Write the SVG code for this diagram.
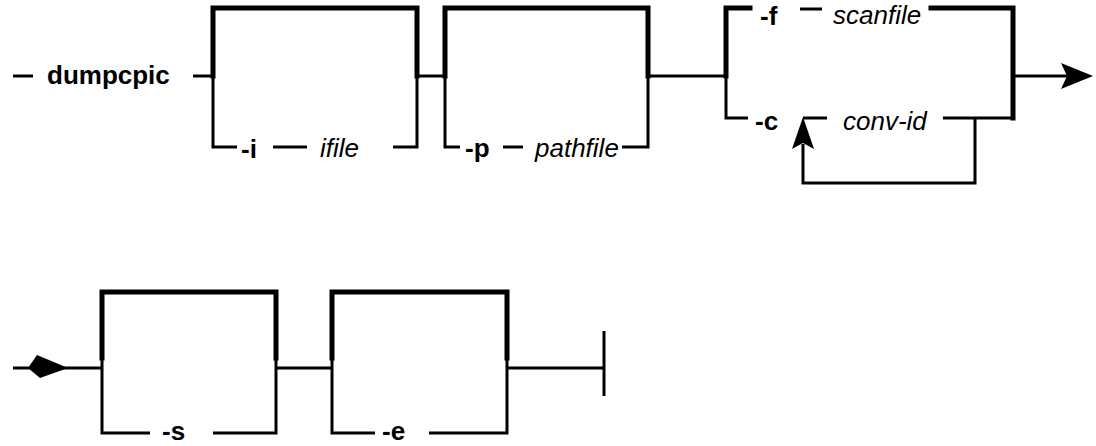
<svg xmlns="http://www.w3.org/2000/svg" width="1096" height="446" viewBox="0 0 1096 446">
  <style>
    .thin { fill: none; stroke: #000; stroke-width: 3; stroke-linecap: butt; stroke-linejoin: miter; }
    .thick { fill: none; stroke: #000; stroke-width: 5; stroke-linecap: square; stroke-linejoin: miter; }
    .head { fill: #000; stroke: none; }
    .kw { font-family: "Liberation Sans", Arial, Helvetica, sans-serif; font-weight: bold; font-size: 26px; fill: #000; }
    .var { font-family: "Liberation Sans", Arial, Helvetica, sans-serif; font-style: italic; font-size: 26px; fill: #000; }
  </style>
  <rect width="1096" height="446" fill="#fff"/>

  <!-- main line and arrows joining the parts -->
  <g id="connectors">
    <path class="thin" d="M13,76 H33" stroke-width="3.5"/>
    <path class="thin" d="M193,76 H213" stroke-width="3.5"/>
    <path class="thin" d="M417,76 H445"/>
    <path class="thin" d="M648,76 H726"/>
    <path class="thin" d="M1013,76 H1068"/>
    <polygon class="head" points="1093,76 1061,63 1067,76 1061,89"/>
    <path class="thin" d="M13,368 H102"/>
    <polygon class="head" points="28,368 37,355 68,368 40,378"/>
    <path class="thin" d="M276,368 H332"/>
    <path class="thin" d="M507,368 H604"/>
    <path class="thin" d="M604,331 V396"/>
  </g>

  <!-- command name -->
  <g id="node-dumpcpic">
    <text class="kw" x="47" y="84">dumpcpic</text>
  </g>

  <!-- optional -i ifile -->
  <g id="opt-i">
    <path class="thick" d="M213,76 V8 H417 V76"/>
    <path class="thin" d="M213,76 V147 H237"/>
    <path class="thin" d="M393,147 H417 V76"/>
    <text class="kw" x="241" y="158">-i</text>
    <path class="thin" d="M273,147 H307"/>
    <text class="var" x="320" y="157">ifile</text>
  </g>

  <!-- optional -p pathfile -->
  <g id="opt-p">
    <path class="thick" d="M445,76 V8 H648 V76"/>
    <path class="thin" d="M445,76 V147 H460"/>
    <path class="thin" d="M622,147 H648 V76"/>
    <text class="kw" x="465" y="157">-p</text>
    <path class="thin" d="M503,147 H523"/>
    <text class="var" x="535" y="157">pathfile</text>
  </g>

  <!-- choice: -f scanfile | -c conv-id (repeatable) -->
  <g id="choice-f-c">
    <path class="thick" d="M726,76 V8 H750"/>
    <path class="thick" d="M931,8 H1013 V118" stroke-width="4.5"/>
    <path class="thin" d="M726,76 V118 H748"/>
    <text class="kw" x="760" y="25">-f</text>
    <path class="thin" d="M800,9 H822"/>
    <text class="var" x="833" y="24">scanfile</text>
    <text class="kw" x="755" y="130">-c</text>
    <path class="thin" d="M803,118 H827"/>
    <text class="var" x="843" y="130">conv-id</text>
    <path class="thin" d="M943,118 H1013"/>
    <path class="thin" d="M975,118 V183 H803 V144"/>
    <polygon class="head" points="803,117 792,149 803,143 814,149"/>
  </g>

  <!-- optional -s -->
  <g id="opt-s">
    <path class="thick" d="M102,358 V292 H276 V358"/>
    <path class="thin" d="M102,358 V433 H150"/>
    <path class="thin" d="M213,433 H276 V358"/>
    <text class="kw" x="162" y="440">-s</text>
  </g>

  <!-- optional -e -->
  <g id="opt-e">
    <path class="thick" d="M332,358 V292 H507 V358"/>
    <path class="thin" d="M332,358 V433 H375"/>
    <path class="thin" d="M429,433 H507 V358"/>
    <text class="kw" x="382" y="440">-e</text>
  </g>
</svg>
